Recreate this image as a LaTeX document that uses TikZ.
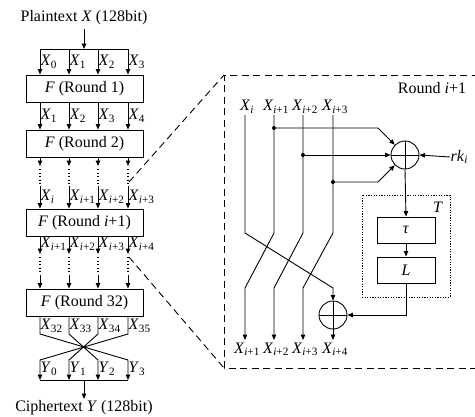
\documentclass[tikz,border=0pt]{standalone}
\usepackage{fontspec}
\setmainfont{Liberation Serif}
\usetikzlibrary{arrows.meta,calc}
\newcommand\Xv[1]{\textit{X}\textsubscript{#1}}
\newcommand\Yv[1]{\textit{Y}\textsubscript{#1}}
\begin{document}
\begin{tikzpicture}[x=1pt,y=-1pt,
  font=\fontsize{16}{18}\selectfont,
  wire/.style={line width=0.9pt},
  arr/.style={wire,-{Triangle[length=5.5pt,width=4.5pt]}},
  dotwire/.style={line width=1.3pt,dash pattern=on 1.3pt off 2.2pt},
  dashwire/.style={line width=0.9pt,dash pattern=on 7pt off 4.5pt},
  rbox/.style={draw,line width=1pt,minimum width=117pt,minimum height=27pt,inner sep=0pt},
  sbox/.style={draw,line width=0.9pt,minimum width=58pt,minimum height=26pt,inner sep=0pt},
  xorc/.style={draw,circle,line width=0.9pt,minimum size=28pt,inner sep=0pt},
  lab/.style={inner sep=0.5pt,anchor=west},
  tlab/.style={inner sep=0.5pt},
]
\useasboundingbox (0,0) rectangle (475,416);
\clip (0,0) rectangle (475,416);

% ---------------- left column ----------------
\node (pt) at (84,18) {Plaintext \textit{X} (128bit)};
\node[rbox] (r1) at (84.5,88.5) {\textit{F} (Round 1)};
\node[rbox] (r2) at (84.5,143.5) {\textit{F} (Round 2)};
\node[rbox] (ri) at (84.5,222.5) {\textit{F} (Round \textit{i}+1)};
\node[rbox] (r32) at (84.5,302.5) {\textit{F} (Round 32)};
\node (ct) at (84,408) {Ciphertext \textit{Y} (128bit)};
\coordinate (inbar) at (84,49);
\coordinate (outbar) at (84,380);
\draw[arr] (84,29) -- (inbar);
\draw[wire] (40,49) -- (128,49);
\draw[wire] (40,380) -- (128,380);
\draw[arr] (outbar) -- (84,399);

\foreach \x in {40,69,98,128} {
  \draw[arr] (\x,49) -- (\x,0 |- r1.north);
  \draw[arr] (\x,0 |- r1.south) -- (\x,0 |- r2.north);
  \draw[arr] (\x,0 |- r2.south) -- (\x,166);
  \draw[dotwire] (\x,169) -- (\x,185);
  \draw[arr] (\x,186) -- (\x,0 |- ri.north);
  \draw[arr] (\x,0 |- ri.south) -- (\x,254);
  \draw[dotwire] (\x,257) -- (\x,273);
  \draw[arr] (\x,275) -- (\x,0 |- r32.north);
}
\draw[arr] (40,0 |- r32.south) -- (40,334) -- (128,360) -- (128,380);
\draw[arr] (69,0 |- r32.south) -- (69,334) -- (98,360) -- (98,380);
\draw[arr] (98,0 |- r32.south) -- (98,334) -- (69,360) -- (69,380);
\draw[arr] (128,0 |- r32.south) -- (128,334) -- (40,360) -- (40,380);

\foreach \x/\t [count=\k] in {40/0,69/1,98/2,128/3}
  \node[lab] (la\k) at (\x,62) {\Xv{\t}};
\foreach \x/\t [count=\k] in {40/1,69/2,98/3,128/4}
  \node[lab] (lb\k) at (\x,116) {\Xv{\t}};
\foreach \x/\t [count=\k] in {40/{\textit{i}},69/{\textit{i}+1},98/{\textit{i}+2},128/{\textit{i}+3}}
  \node[lab] (lc\k) at (\x,197) {\Xv{\t}};
\foreach \x/\t [count=\k] in {40/{\textit{i}+1},69/{\textit{i}+2},98/{\textit{i}+3},128/{\textit{i}+4}}
  \node[lab] (ld\k) at (\x,244) {\Xv{\t}};
\foreach \x/\t [count=\k] in {40/32,69/33,98/34,128/35}
  \node[lab] (le\k) at (\x,326) {\Xv{\t}};
\foreach \x/\t [count=\k] in {40/0,69/1,98/2,128/3}
  \node[lab] (lf\k) at (\x,369) {\Yv{\t}};

% dashed zoom connectors
\coordinate (zs1) at (129,182);
\coordinate (zs2) at (129,257);
\coordinate (ztl) at (224,75);
\coordinate (zbl) at (224,368);
\draw[dashwire] (zs1) -- (ztl);
\draw[dashwire] (zs2) -- (zbl);
\draw[dashwire] (490,75) -- (ztl) -- (zbl) -- (490,368);

% ---------------- right panel ----------------
\node (rlab) at (432,88) {Round \textit{i}+1};
\foreach \x/\t [count=\k] in {245/{\textit{i}},274/{\textit{i}+1},303/{\textit{i}+2},333/{\textit{i}+3}}
  \node[tlab] (tt\k) at (\x+2,107) {\Xv{\t}};
\foreach \x/\t [count=\k] in {245/{\textit{i}+1},274/{\textit{i}+2},303/{\textit{i}+3},333/{\textit{i}+4}}
  \node[tlab,anchor=north] (bt\k) at (\x+2,342) {\Xv{\t}};

\node[xorc] (x1) at (405,155) {};
\draw[wire] (x1.north) -- (x1.south) (x1.west) -- (x1.east);
\node[xorc] (x2) at (333,315) {};
\draw[wire] (x2.north) -- (x2.south) (x2.west) -- (x2.east);

\node[draw,line width=0.8pt,dash pattern=on 1.2pt off 1.4pt,minimum width=88pt,minimum height=102pt,inner sep=0pt] (Tb) at (406,246) {};
\node[tlab] (Tl) at (438,207) {\textit{T}};
\node[sbox] (tau) at (406,230) {\textit{τ}};
\node[sbox] (L) at (406,270) {\textit{L}};
\node[tlab,anchor=west] (rk) at (450,157) {\textit{rk}\textsubscript{\textit{i}}};

\draw[arr] (245,115) -- (245,233) -- (333,288) -- (x2.north);
\draw[arr] (274,115) -- (274,233) -- (245,288) -- (245,340);
\draw[arr] (303,115) -- (303,233) -- (274,288) -- (274,340);
\draw[arr] (333,115) -- (333,233) -- (303,288) -- (303,340);
\draw[arr] (x2.south) -- (333,340);

\fill (274,128) circle (2pt) (303,155) circle (2pt) (333,182) circle (2pt);
\draw[arr] (274,128) -- (378,128) -- (x1.135);
\draw[arr] (303,155) -- (x1.west);
\draw[arr] (333,182) -- (378,182) -- (x1.225);
\draw[arr] (rk.west) -- (x1.east);
\draw[arr] (x1.south) -- (tau.north);
\draw[arr] (tau.south) -- (L.north);
\draw[arr] (L.south) -- (L.south |- x2) -- (x2.east);
\end{tikzpicture}
\end{document}
